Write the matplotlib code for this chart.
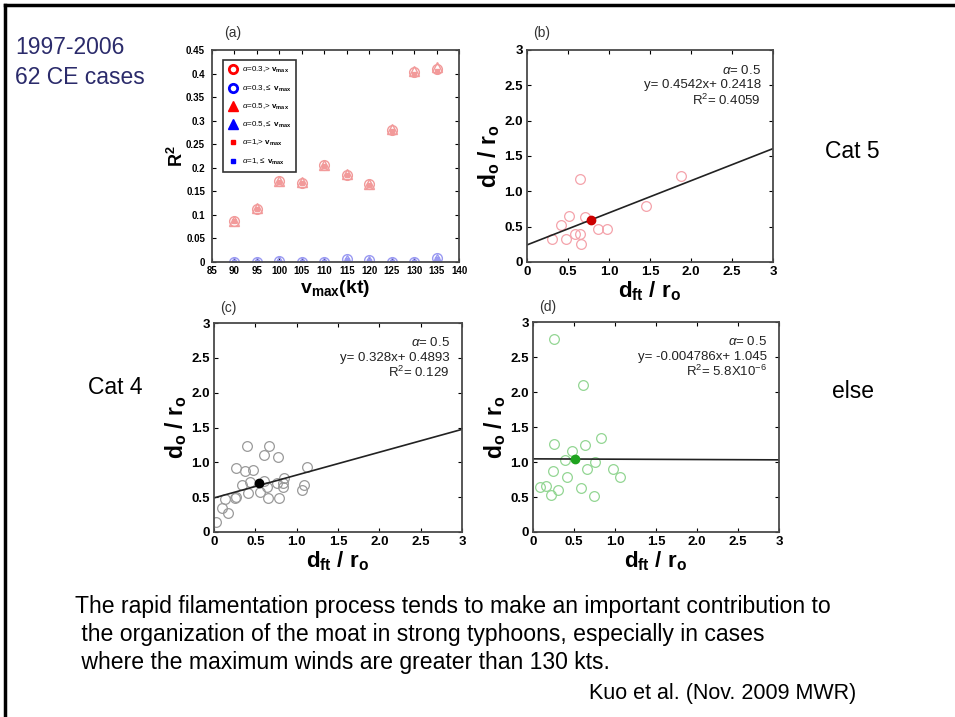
import matplotlib
matplotlib.use("Agg")
import matplotlib.pyplot as plt
from matplotlib.lines import Line2D

plt.rcParams["font.family"] = ["Liberation Sans", "DejaVu Sans"]
plt.rcParams["mathtext.fontset"] = "custom"
plt.rcParams["mathtext.rm"] = "Liberation Sans"
plt.rcParams["mathtext.it"] = "Liberation Sans:italic"
plt.rcParams["mathtext.bf"] = "Liberation Sans:bold"

# ---- panel (a): R^2 vs vmax ----
vmax = [90, 95, 100, 105, 110, 115, 120, 125, 130, 135]
r2_a03_gt = [0.087, 0.113, 0.171, 0.168, 0.205, 0.185, 0.165, 0.281, 0.404, 0.410]
r2_a05_gt = [0.088, 0.115, 0.172, 0.169, 0.206, 0.186, 0.166, 0.282, 0.406, 0.414]
r2_a1_gt = [0.086, 0.112, 0.170, 0.167, 0.204, 0.184, 0.164, 0.278, 0.400, 0.406]
r2_a03_le = [0.001, 0.001, 0.002, 0.001, 0.001, 0.007, 0.004, 0.001, 0.001, 0.009]
r2_a05_le = [0.001, 0.001, 0.002, 0.001, 0.001, 0.005, 0.003, 0.001, 0.001, 0.007]
r2_a1_le = [0.000, 0.000, 0.001, 0.000, 0.000, 0.004, 0.002, 0.000, 0.000, 0.006]

# ---- panel (b): Cat 5 ----
b_x = [0.30, 0.41, 0.47, 0.51, 0.59, 0.65, 0.65, 0.66, 0.71, 0.87, 0.97, 1.45, 1.88]
b_y = [0.32, 0.53, 0.33, 0.65, 0.40, 1.17, 0.40, 0.26, 0.64, 0.47, 0.47, 0.79, 1.22]
b_mean = (0.78, 0.60)
b_fit = (0.4542, 0.2418)

# ---- panel (c): Cat 4 ----
c_x = [0.03, 0.10, 0.13, 0.17, 0.25, 0.27, 0.27, 0.34, 0.37, 0.40, 0.41, 0.43, 0.47,
       0.56, 0.60, 0.60, 0.64, 0.65, 0.67, 0.76, 0.78, 0.79, 0.84, 0.84, 0.85,
       1.06, 1.09, 1.12]
c_y = [0.15, 0.34, 0.48, 0.27, 0.49, 0.50, 0.92, 0.67, 0.88, 1.24, 0.56, 0.72, 0.89,
       0.57, 1.10, 0.73, 0.64, 0.49, 1.24, 0.70, 1.08, 0.49, 0.64, 0.71, 0.77,
       0.60, 0.68, 0.93]
c_mean = (0.55, 0.70)
c_fit = (0.328, 0.4893)

# ---- panel (d): else ----
d_x = [0.09, 0.16, 0.22, 0.24, 0.26, 0.26, 0.30, 0.39, 0.41, 0.48, 0.59, 0.61, 0.64,
       0.66, 0.74, 0.76, 0.83, 0.98, 1.06]
d_y = [0.64, 0.66, 0.53, 0.87, 2.76, 1.26, 0.60, 1.03, 0.79, 1.16, 0.63, 2.10, 1.24,
       0.90, 0.51, 1.00, 1.35, 0.90, 0.79]
d_mean = (0.51, 1.04)
d_fit = (-0.004786, 1.045)

W, H = 955, 717
fig = plt.figure(figsize=(W / 100, H / 100), dpi=100)


def box(x0, x1, y0, y1):
    return [x0 / W, 1 - y1 / H, (x1 - x0) / W, (y1 - y0) / H]


def style_axes(ax, size, pad=2):
    for s in ax.spines.values():
        s.set_linewidth(1.3)
        s.set_color("#4a4a4a")
    ax.tick_params(direction="in", top=True, right=True, length=3, width=0.8,
                   labelsize=size, pad=pad)
    for lab in ax.get_xticklabels() + ax.get_yticklabels():
        lab.set_fontweight("bold")


# panel (a)
ax = fig.add_axes(box(212, 459, 50, 262))
lr, lb = "#f29a9a", "#9a9af2"
ax.plot(vmax, r2_a03_gt, "o", mfc="none", mec=lr, ms=7, mew=1)
ax.plot(vmax, r2_a05_gt, "^", mfc="none", mec=lr, ms=7, mew=1)
ax.plot(vmax, r2_a1_gt, "s", mfc=lr, mec=lr, ms=3)
ax.plot(vmax, r2_a03_le, "o", mfc="none", mec=lb, ms=7, mew=1)
ax.plot(vmax, r2_a05_le, "^", mfc="none", mec=lb, ms=7, mew=1)
ax.plot(vmax, r2_a1_le, "s", mfc=lb, mec=lb, ms=3)
ax.set_xlim(85, 140)
ax.set_ylim(0, 0.45)
ax.set_xticks(range(85, 141, 5))
ax.set_yticks([0, 0.05, 0.1, 0.15, 0.2, 0.25, 0.3, 0.35, 0.4, 0.45])
ax.set_yticklabels(["0", "0.05", "0.1", "0.15", "0.2", "0.25", "0.3", "0.35", "0.4", "0.45"])
style_axes(ax, 7)
ax.tick_params(axis="y", pad=5)
ax.tick_params(axis="x", pad=3)
ax.set_xlabel(r"$\mathbf{v_{max}}$(kt)", fontsize=14, fontweight="bold", labelpad=1)
ax.set_ylabel(r"$\mathbf{R^2}$", fontsize=13, labelpad=-1)
ax.text(0.05, 1.08, "(a)", transform=ax.transAxes, fontsize=10, color="#333333",
        va="center")
vm = r" $\mathbf{v_{max}}$"
handles = [
    Line2D([], [], ls="none", marker="o", mfc="none", mec="red", mew=2, ms=6),
    Line2D([], [], ls="none", marker="o", mfc="none", mec="blue", mew=2, ms=6),
    Line2D([], [], ls="none", marker="^", mfc="red", mec="red", ms=7),
    Line2D([], [], ls="none", marker="^", mfc="blue", mec="blue", ms=7),
    Line2D([], [], ls="none", marker="s", mfc="red", mec="red", ms=3),
    Line2D([], [], ls="none", marker="s", mfc="blue", mec="blue", ms=3),
]
labels = [r"$\alpha$=0.3,>" + vm, r"$\alpha$=0.3,$\leq$" + vm,
          r"$\alpha$=0.5,>" + vm, r"$\alpha$=0.5,$\leq$" + vm,
          r"$\alpha$=1,>" + vm, r"$\alpha$=1,$\leq$" + vm]
leg = ax.legend(handles, labels, loc="upper left", fontsize=5.8, frameon=True,
                fancybox=False, edgecolor="black", handlelength=1.2,
                handletextpad=0.5, borderpad=0.6, labelspacing=1.0,
                bbox_to_anchor=(0.03, 0.97))
leg.get_frame().set_linewidth(1.2)


def scatter_panel(pos, xs, ys, mean, fit, light, dark, lines, tag, tag_y):
    ax = fig.add_axes(box(*pos))
    ax.plot(xs, ys, "o", mfc="none", mec=light, ms=7, mew=0.9)
    ax.plot([0, 3], [fit[1], fit[0] * 3 + fit[1]], "-", color="#222222", lw=1.2)
    ax.plot([mean[0]], [mean[1]], "o", color=dark, ms=6)
    ax.set_xlim(0, 3)
    ax.set_ylim(0, 3)
    ticks = [0, 0.5, 1, 1.5, 2, 2.5, 3]
    tl = ["0", "0.5", "1.0", "1.5", "2.0", "2.5", "3"]
    ax.set_xticks(ticks)
    ax.set_xticklabels(tl)
    ax.set_yticks(ticks)
    ax.set_yticklabels(tl)
    style_axes(ax, 9.5, pad=3)
    ax.set_xlabel(r"$\mathbf{d_{ft}\ /\ r_o}$", fontsize=16, labelpad=1)
    ax.set_ylabel(r"$\mathbf{d_o\ /\ r_o}$", fontsize=16.5, labelpad=2)
    ax.text(0.025, tag_y, tag, transform=ax.transAxes, fontsize=10, color="#333333",
            va="center")
    for i, t in enumerate(lines):
        ax.text(0.95, 0.905 - i * 0.071, t, transform=ax.transAxes, ha="right",
                va="center", fontsize=9.5, color="#222222")
    return ax


scatter_panel((527, 773, 50, 262), b_x, b_y, b_mean, b_fit, "#f4a3ab", "#cc0000",
              [r"$\alpha$= 0.5", "y= 0.4542x+ 0.2418", r"R$^2$= 0.4059"], "(b)", 1.08)
scatter_panel((214, 462, 323, 532), c_x, c_y, c_mean, c_fit, "#9a9a9a", "#000000",
              [r"$\alpha$= 0.5", "y= 0.328x+ 0.4893", r"R$^2$= 0.129"], "(c)", 1.072)
scatter_panel((533, 779, 322, 532), d_x, d_y, d_mean, d_fit, "#93d693", "#1ea31e",
              [r"$\alpha$= 0.5", "y= -0.004786x+ 1.045", r"R$^2$= 5.8X10$^{-6}$"], "(d)",
              1.072)

# slide texts
navy = "#2b2b6b"
fig.text(15 / W, 1 - 48 / H, "1997-2006", fontsize=16.5, color=navy, va="center")
fig.text(15 / W, 1 - 77 / H, "62 CE cases", fontsize=16.5, color=navy, va="center")
fig.text(825 / W, 1 - 152 / H, "Cat 5", fontsize=16.5, va="center")
fig.text(88 / W, 1 - 388 / H, "Cat 4", fontsize=16.5, va="center")
fig.text(832 / W, 1 - 392 / H, "else", fontsize=16.5, va="center")

para = ["The rapid filamentation process tends to make an important contribution to",
        " the organization of the moat in strong typhoons, especially in cases",
        " where the maximum winds are greater than 130 kts."]
for i, line in enumerate(para):
    fig.text(75 / W, 1 - (606 + i * 28.5) / H, line, fontsize=16.6, va="center")
fig.text(856 / W, 1 - 693 / H, "Kuo et al. (Nov. 2009 MWR)", fontsize=15.5,
         ha="right", va="center")

# slide frame
fig.add_artist(Line2D([5 / W, 5 / W], [0, 1 - 5 / H], color="black", lw=2.5))
fig.add_artist(Line2D([5 / W, 1], [1 - 5 / H, 1 - 5 / H], color="black", lw=2.5))

fig.savefig("out.png", dpi=100)
